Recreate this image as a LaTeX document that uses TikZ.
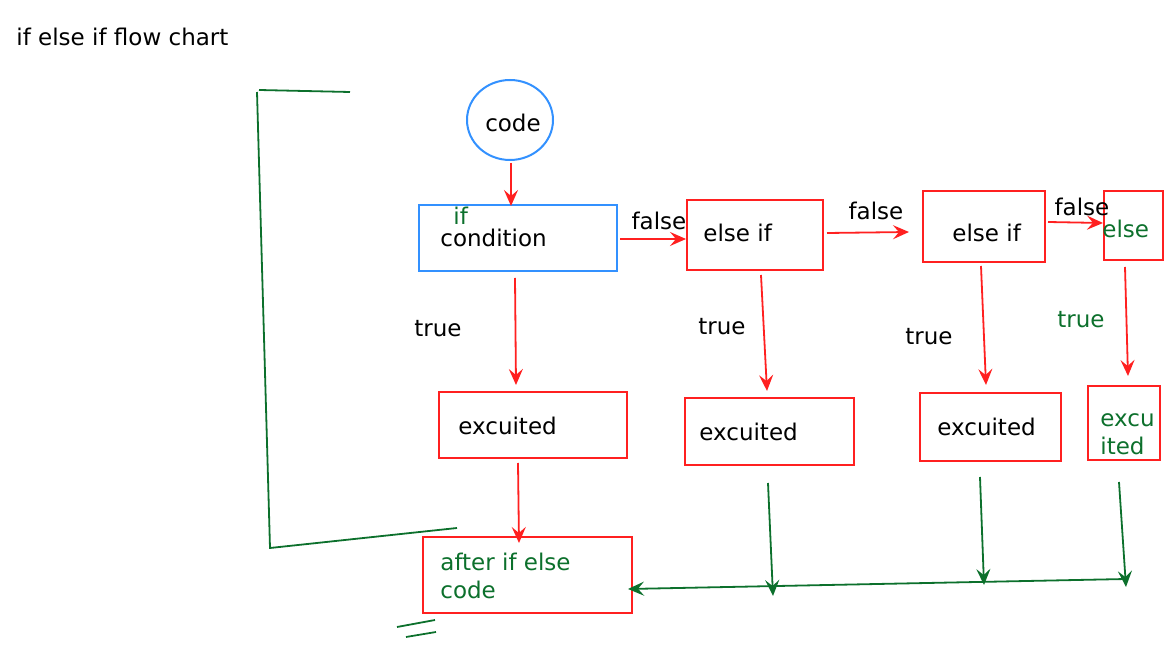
\documentclass[tikz,border=0pt]{standalone}
\usepackage{fontspec}
\setmainfont{DejaVu Sans}
\usetikzlibrary{shapes.geometric}
\usetikzlibrary{arrows.meta}

\definecolor{flowred}{RGB}{255,32,32}
\definecolor{flowblue}{RGB}{51,145,255}
\definecolor{flowgreen}{RGB}{12,112,44}

\begin{document}
\begin{tikzpicture}
	[x=0.5pt,y=-0.5pt,
	lbl/.style={inner sep=0pt, font=\fontsize{11.5}{14}\selectfont},
	greenlbl/.style={lbl, text=flowgreen},
	box/.style={rectangle, draw=flowred, line width=1pt, inner sep=0pt, outer sep=0pt},
	bluebox/.style={box, draw=flowblue},
	flow/.style={->, draw=flowred, line width=0.9pt, >={Stealth[length=8pt,width=7pt,inset=3pt]}},
	merge/.style={flow, draw=flowgreen},
	stroke/.style={draw=flowgreen, line width=0.9pt}]

\useasboundingbox (0,0) rectangle (1168,657);

\node [lbl, anchor=west] (title) at (16,37) {if else if flow chart};

% boxes
\node [ellipse, draw=flowblue, line width=1pt, minimum width=43pt, minimum height=40pt, inner sep=0pt] (code) at (510,120) {};
\node [bluebox, minimum width=99pt, minimum height=33pt] (cond) at (518,238) {};
\node [box, minimum width=68pt, minimum height=35pt] (elif1) at (755,235) {};
\node [box, minimum width=61pt, minimum height=35.5pt] (elif2) at (984,226.5) {};
\node [box, minimum width=29.5pt, minimum height=34.5pt] (els) at (1133.5,225.5) {};
\node [box, minimum width=94pt, minimum height=33pt] (exc1) at (533,425) {};
\node [box, minimum width=84.5pt, minimum height=33.5pt] (exc2) at (769.5,431.5) {};
\node [box, minimum width=70.5pt, minimum height=34pt] (exc3) at (990.5,427) {};
\node [box, minimum width=36pt, minimum height=37pt] (exc4) at (1124,423) {};
\node [box, minimum width=104.5pt, minimum height=38pt] (after) at (527.5,575) {};

% texts
\node [lbl] (codetxt) at (513,123) {code};
\node [greenlbl, anchor=west] (iftxt) at (453,216) {if};
\node [lbl, anchor=west] (condtxt) at (440,238) {condition};
\node [lbl, anchor=west] (elif1txt) at (703,233) {else if};
\node [lbl, anchor=west] (elif2txt) at (952,233) {else if};
\node [greenlbl, anchor=west] (elstxt) at (1102,229) {else};
\node [lbl, anchor=west] (exc1txt) at (458,426) {excuited};
\node [lbl, anchor=west] (exc2txt) at (699,432) {excuited};
\node [lbl, anchor=west] (exc3txt) at (937,427) {excuited};
\node [greenlbl, anchor=west, align=left] (exc4txt) at (1100,434) {excu\\ited};
\node [greenlbl, anchor=west, align=left] (aftertxt) at (440,576) {after if else\\code};

\node [lbl] (false1) at (659,221) {false};
\node [lbl] (false2) at (876,211) {false};
\node [lbl] (false3) at (1082,207) {false};
\node [lbl] (true1) at (438,329) {true};
\node [lbl] (true2) at (722,327) {true};
\node [lbl] (true3) at (929,337) {true};
\node [greenlbl] (true4) at (1081,320) {true};

% red connectors
\draw [flow] ([shift={(1,2)}]code.south) -- ([shift={(-7,1)}]cond.north);
\draw [flow] ([shift={(3,1)}]cond.east) -- ([shift={(-1,4)}]elif1.west);
\draw [flow] ([shift={(4,-2)}]elif1.east) -- ([shift={(-14,5.5)}]elif2.west);
\draw [flow] ([shift={(3,-4.5)}]elif2.east) -- ([shift={(-1,-2.5)}]els.west);
\draw [flow] ([shift={(-3,7)}]cond.south) -- ([shift={(-17,-7)}]exc1.north);
\draw [flow] ([shift={(6,5)}]elif1.south) -- ([shift={(-2.5,-7)}]exc2.north);
\draw [flow] ([shift={(-3,4)}]elif2.south) -- ([shift={(-4.5,-8)}]exc3.north);
\draw [flow] ([shift={(-8.5,7)}]els.south) -- ([shift={(4,-10)}]exc4.north);
\draw [flow] ([shift={(-15,5)}]exc1.south) -- ([shift={(-8.5,6)}]after.north);

% green joins
\coordinate (join2) at (773,596);
\coordinate (join3) at (984,585);
\coordinate (join4) at (1126,587);
\coordinate (joinR) at (1126,579);
\draw [merge] ([shift={(-1.5,18)}]exc2.south) -- (join2);
\draw [merge] ([shift={(-10.5,16)}]exc3.south) -- (join3);
\draw [merge] ([shift={(-5,22)}]exc4.south) -- (join4);
\draw [merge] (joinR) -- ([shift={(-4,14)}]after.east);

% green strokes
\draw [stroke] (259,90) -- (350,92);
\draw [stroke] (257,92) -- (270,548) -- (457,528);
\draw [stroke] (397,627) -- (435,620);
\draw [stroke] (406,637) -- (436,632);

\end{tikzpicture}
\end{document}
